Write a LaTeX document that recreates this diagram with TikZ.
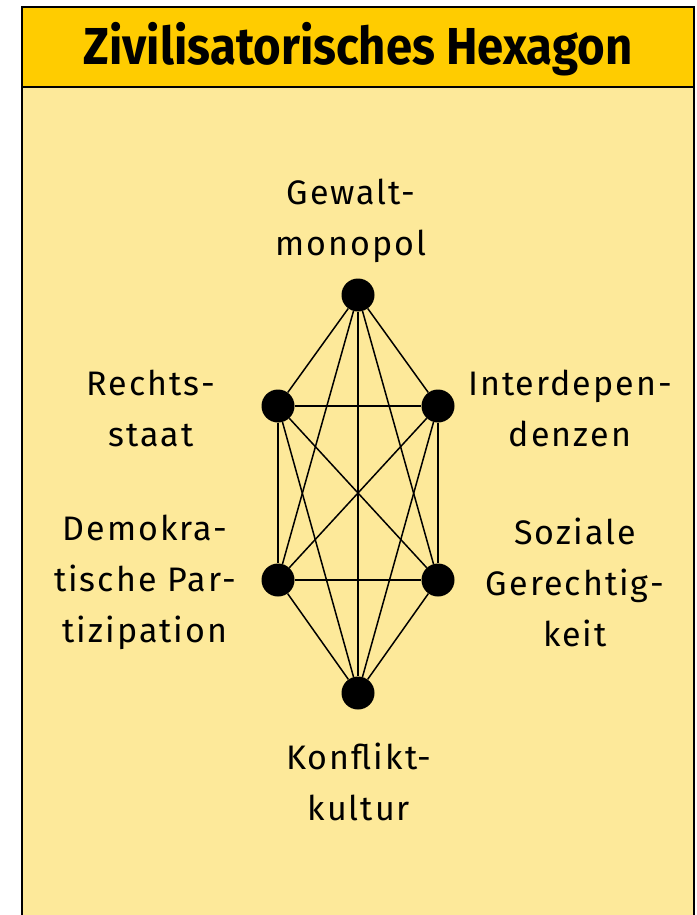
\documentclass[tikz,border=0pt]{standalone}
\usepackage{fontspec}
\setmainfont{Fira Sans}[LetterSpace=6]
\newfontfamily\titlefont{Fira Sans}[FakeStretch=0.91]

\definecolor{titleyellow}{HTML}{FFCC00}
\definecolor{paleyellow}{HTML}{FDE99A}

\tikzset{
	dot/.style={circle,fill=black,inner sep=0pt,minimum size=33pt},
	lbl/.style={align=center,inner sep=0pt,font=\fontsize{34}{51}\selectfont},
	edge/.style={line width=1.5pt}
}

\begin{document}
\begin{tikzpicture}[x=1pt,y=-1pt]

\useasboundingbox (0,0) rectangle (696,915);

% The frame and the title bar
\fill[paleyellow] (22,87) rectangle (694,915);
\fill[titleyellow] (22,7) rectangle (694,87);
\draw[line width=2pt] (22,915) -- (22,7) -- (694,7) -- (694,915);
\draw[line width=1.5pt] (22,87) -- (694,87);
\node[anchor=base,inner sep=0pt,font=\titlefont\fontsize{52}{60}\selectfont\bfseries] (title) at (358,65) {Zivilisatorisches Hexagon};

% The six corners
\node[dot] (gm) at (358,295) {};
\node[dot] (rs) at (278,406) {};
\node[dot] (id) at (438,406) {};
\node[dot] (dp) at (278,580) {};
\node[dot] (sg) at (438,580) {};
\node[dot] (kk) at (358,693) {};

% Every corner with every other one
\foreach \a/\b in {gm/rs,gm/id,gm/dp,gm/sg,gm/kk,rs/id,rs/dp,rs/sg,rs/kk,id/dp,id/sg,id/kk,dp/sg,dp/kk,sg/kk}
{
	\draw[edge] (\a) -- (\b);
}

% The labels
\node[lbl] (gmtext) at (351,221) {Gewalt-\\monopol};
\node[lbl] (rstext) at (151,408) {Rechts-\\staat};
\node[lbl] (dptext) at (145,582) {Demokra-\\tische Par-\\tizipation};
\node[lbl] (idtext) at (570,408) {Interdepen-\\denzen};
\node[lbl] (sgtext) at (575,582) {Soziale\\Gerechtig-\\keit};
\node[lbl] (kktext) at (359,782) {Konflikt-\\kultur};

\end{tikzpicture}
\end{document}
